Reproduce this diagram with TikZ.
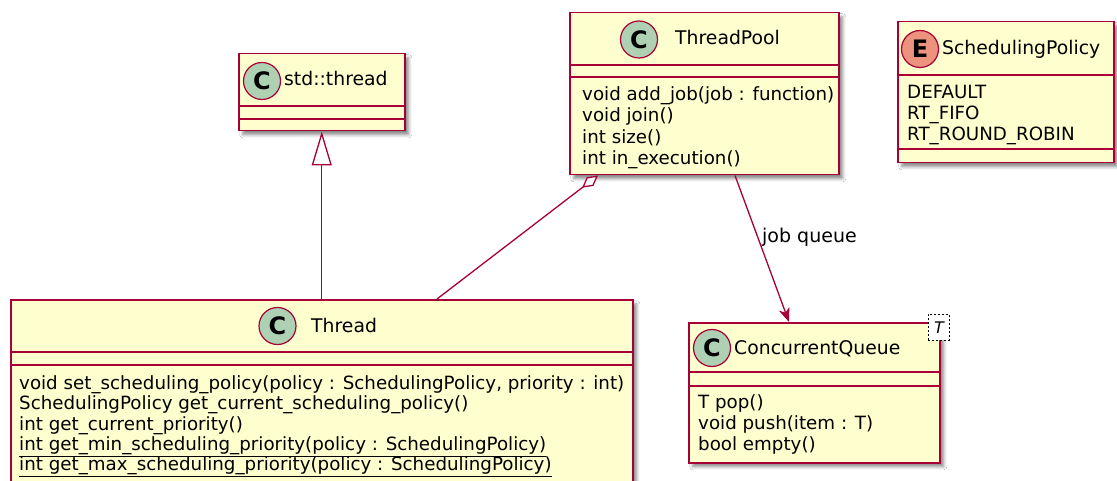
\documentclass[tikz,border=0pt]{standalone}
\usepackage{fontspec}
\setmainfont{DejaVu Sans}
\usetikzlibrary{arrows.meta,calc,shadows.blur}
\definecolor{classfill}{HTML}{FEFECE}
\definecolor{classline}{HTML}{A80036}
\definecolor{classspot}{HTML}{ADD1B2}
\definecolor{enumspot}{HTML}{EB937F}

\tikzset{
  classbox/.style={draw=classline, fill=classfill, line width=1.5pt, rectangle,
    inner sep=0pt, anchor=north west,
    blur shadow={shadow xshift=4pt, shadow yshift=-4pt, shadow blur radius=3pt, shadow opacity=45}},
  spot/.style={circle, draw=classline, line width=1.2pt, minimum size=37pt, inner sep=0pt,
    font=\fontsize{24}{24}\selectfont\bfseries},
  cname/.style={anchor=base west, inner sep=0pt, font=\fontsize{18.8}{22}\selectfont},
  member/.style={anchor=base west, inner sep=0pt, font=\fontsize{18.25}{21}\selectfont},
  sepline/.style={draw=classline, line width=1.5pt},
  link/.style={draw=classline, line width=1.3pt},
  linklabel/.style={anchor=base west, inner sep=0pt, font=\fontsize{19}{22}\selectfont},
  tparam/.style={draw=black, line width=0.8pt, dash pattern=on 2pt off 2pt, fill=white,
    minimum width=21pt, minimum height=26pt, inner sep=0pt, anchor=north west,
    font=\fontsize{16}{16}\selectfont\itshape},
}

\begin{document}
\begin{tikzpicture}[x=1pt,y=-1pt]
\clip (0,0) rectangle (1117,481);
\fill[white] (0,0) rectangle (1117,481);

% ---- std::thread
\node[classbox, minimum width=166pt, minimum height=77pt] (std) at (238,53) {};
\draw[sepline] (238,106) -- (404,106) (238,119) -- (404,119);
\node[spot, fill=classspot] (stdspot) at (262,81) {C};
\node[cname] (stdname) at (284,86) {std::thread};

% ---- ThreadPool
\node[classbox, minimum width=269pt, minimum height=162pt] (pool) at (569,12) {};
\draw[sepline] (569,65) -- (838,65) (569,77) -- (838,77);
\node[spot, fill=classspot] (poolspot) at (639,39.5) {C};
\node[cname] (poolname) at (675,45) {ThreadPool};
\node[member] (pool1) at (582,100.5) {void add\_job(job : function)};
\node[member] (pool2) at (582,121.8) {void join()};
\node[member] (pool3) at (582,143.1) {int size()};
\node[member] (pool4) at (582,164.4) {int in\_execution()};

% ---- SchedulingPolicy
\node[classbox, minimum width=216pt, minimum height=141pt] (sched) at (897,21) {};
\draw[sepline] (897,75) -- (1113,75) (897,149) -- (1113,149);
\node[spot, fill=enumspot] (schedspot) at (920,49) {E};
\node[cname] (schedname) at (942,55) {SchedulingPolicy};
\node[member] (sched1) at (907,98.5) {DEFAULT};
\node[member] (sched2) at (907,119.3) {RT\_FIFO};
\node[member] (sched3) at (907,140.1) {RT\_ROUND\_ROBIN};

% ---- Thread
\node[classbox, minimum width=622pt, minimum height=200pt] (thread) at (10,299) {};
\draw[sepline] (10,352) -- (632,352) (10,365) -- (632,365);
\node[spot, fill=classspot] (threadspot) at (277.5,326) {C};
\node[cname] (threadname) at (311,332) {Thread};
\node[member] (thread1) at (19,389.5) {void set\_scheduling\_policy(policy : SchedulingPolicy, priority : int)};
\node[member] (thread2) at (19,409.8) {SchedulingPolicy get\_current\_scheduling\_policy()};
\node[member] (thread3) at (19,430.1) {int get\_current\_priority()};
\node[member] (thread4) at (19,450.4) {\underline{int get\_min\_scheduling\_priority(policy : SchedulingPolicy)}};
\node[member] (thread5) at (19,470.7) {\underline{int get\_max\_scheduling\_priority(policy : SchedulingPolicy)}};

% ---- ConcurrentQueue<T>
\node[classbox, minimum width=251pt, minimum height=140pt] (queue) at (688,322) {};
\draw[sepline] (688,372) -- (939,372) (688,386) -- (939,386);
\node[spot, fill=classspot] (queuespot) at (712,348) {C};
\node[cname] (queuename) at (734,354) {ConcurrentQueue};
\node[tparam] (queueparam) at (928,314) {T};
\node[member] (queue1) at (698,408.5) {T pop()};
\node[member] (queue2) at (698,429.7) {void push(item : T)};
\node[member] (queue3) at (698,450.9) {bool empty()};

% ---- relations
\draw[link, -{Triangle[length=34pt,width=20pt,fill=white]}] (thread.north) -- (std.south);

\coordinate (aggfrom) at ($(pool.south west)+(29,0)$);
\coordinate (aggto) at ($(thread.north west)+(427,0)$);
\draw[link, {Diamond[length=20pt,width=11pt,fill=white]}-] (aggfrom) -- (aggto);

\coordinate (jobfrom) at ($(pool.south west)+(166,0)$);
\coordinate (jobto) at ($(queue.north west)+(101,0)$);
\draw[link, -{Stealth[length=14pt,width=11pt,inset=4pt]}] (jobfrom) -- (jobto);
\node[linklabel] (joblabel) at (762,243) {job queue};
\end{tikzpicture}
\end{document}
